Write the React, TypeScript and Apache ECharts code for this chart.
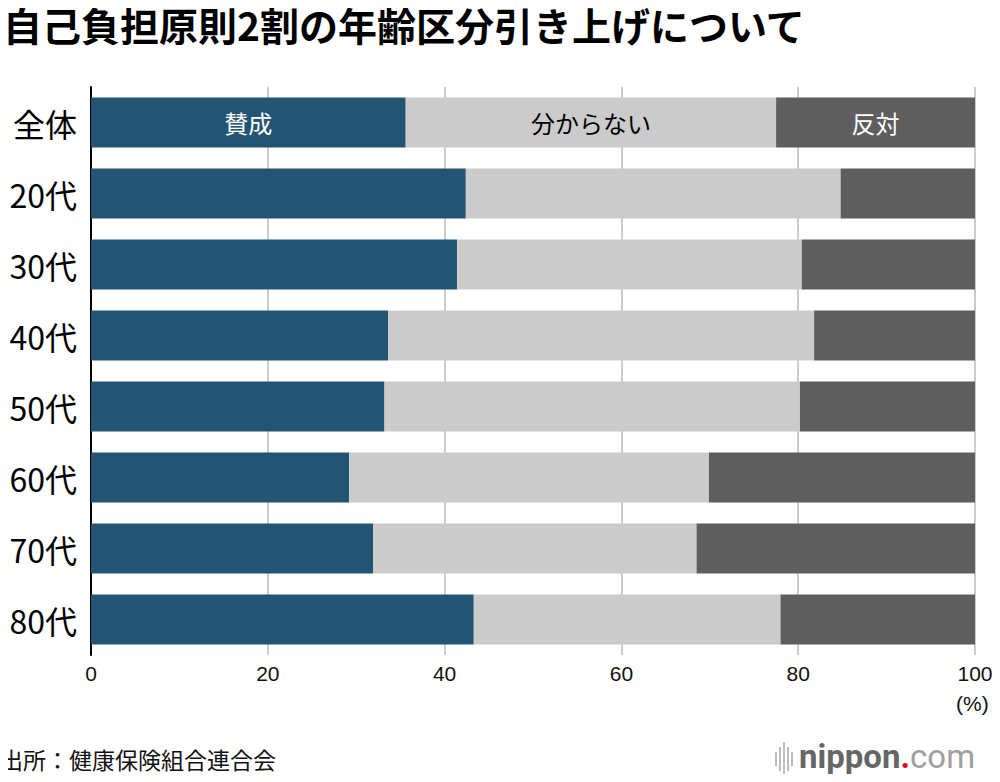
import React, { useEffect, useRef } from "react";
import * as echarts from "echarts";

const categories = ["全体", "20代", "30代", "40代", "50代", "60代", "70代", "80代"];
const agree = [35.6, 42.4, 41.4, 33.6, 33.2, 29.2, 31.9, 43.3];
const unknown = [41.9, 42.4, 39.0, 48.2, 47.0, 40.7, 36.6, 34.7];
const disagree = [22.5, 15.2, 19.6, 18.2, 19.8, 30.1, 31.5, 22.0];
const seriesNames = ["賛成", "分からない", "反対"];
const xTicks = [0, 20, 40, 60, 80, 100];
const titleText = "自己負担原則2割の年齢区分引き上げについて";

const FONT = "'Noto Sans CJK JP', 'Noto Sans', sans-serif";
const LOGO_FONT = "'Roboto', 'Liberation Sans', sans-serif";

export default function App() {
  const ref = useRef<HTMLDivElement>(null);
  useEffect(() => {
    if (!ref.current) return;
    const chart = echarts.init(ref.current, null, { renderer: "svg" });
    const makeSeries = (name: string, data: number[], color: string, labelColor: string) => ({
      name,
      type: "bar",
      stack: "total",
      barWidth: 50,
      data: data.map((v, i) => ({
        value: v,
        label: {
          show: i === 0,
          formatter: name,
          color: labelColor,
          fontSize: 24,
          fontFamily: FONT,
          position: "inside",
        },
      })),
      itemStyle: { color },
      emphasis: { disabled: true },
    });
    chart.setOption({
      animation: false,
      textStyle: { fontFamily: FONT },
      grid: { left: 91, right: 25, top: 87, bottom: 127, containLabel: false },
      xAxis: {
        type: "value",
        min: 0,
        max: 100,
        interval: 20,
        axisLine: { show: false },
        axisTick: { show: false },
        splitLine: { show: true, lineStyle: { color: "#cccccc", width: 2 } },
        axisLabel: {
          color: "#111",
          fontSize: 21,
          margin: 8,
          fontFamily: "'Liberation Sans', Arial, sans-serif",
          formatter: (v: number) => (xTicks.includes(v) ? String(v) : ""),
        },
      },
      yAxis: {
        type: "category",
        data: categories,
        inverse: true,
        axisLine: { show: true, lineStyle: { color: "#000", width: 2 } },
        axisTick: { show: false },
        axisLabel: { color: "#000", fontSize: 32, margin: 14, fontFamily: FONT },
      },
      series: [
        makeSeries(seriesNames[0], agree, "#235572", "#ffffff"),
        makeSeries(seriesNames[1], unknown, "#cbcbcb", "#000000"),
        makeSeries(seriesNames[2], disagree, "#5e5e5e", "#ffffff"),
      ],
      graphic: [
        {
          type: "text",
          x: 3,
          y: 24,
          style: {
            text: titleText,
            fontSize: 39,
            fontWeight: "bold",
            fill: "#000",
            fontFamily: FONT,
            verticalAlign: "middle",
            align: "left",
          },
        },
        {
          type: "text",
          x: 956,
          y: 693,
          style: { text: "(%)", fontSize: 21, fill: "#111", fontFamily: "'Liberation Sans', Arial, sans-serif" },
        },
        {
          type: "text",
          x: 0,
          y: 747,
          style: { text: "出所：健康保険組合連合会", fontSize: 23, fill: "#111", fontFamily: FONT },
        },
        {
          type: "group",
          x: 775,
          y: 742,
          children: [
            { type: "rect", shape: { x: 0, y: 10, width: 2, height: 14 }, style: { fill: "#bbbbbb" } },
            { type: "rect", shape: { x: 4, y: 5, width: 2, height: 24 }, style: { fill: "#bbbbbb" } },
            { type: "rect", shape: { x: 8, y: 0, width: 2, height: 34 }, style: { fill: "#bbbbbb" } },
            { type: "rect", shape: { x: 12, y: 5, width: 2, height: 24 }, style: { fill: "#bbbbbb" } },
            { type: "rect", shape: { x: 16, y: 10, width: 2, height: 14 }, style: { fill: "#bbbbbb" } },
            {
              type: "text",
              x: 24,
              y: -2,
              style: {
                text: "{a|nippon}{b|.}{c|com}",
                fontFamily: LOGO_FONT,
                fontSize: 33,
                fill: "#666666",
                rich: {
                  a: { fontSize: 33, fontWeight: "bold", fill: "#666666", color: "#666666", fontFamily: LOGO_FONT },
                  b: { fontSize: 33, fontWeight: "bold", fill: "#e60012", color: "#e60012", fontFamily: LOGO_FONT },
                  c: { fontSize: 33, fill: "#a0a0a0", color: "#a0a0a0", fontFamily: LOGO_FONT },
                },
              },
            },
          ],
        },
      ],
    });
    return () => chart.dispose();
  }, []);
  return <div ref={ref} style={{ width: 1000, height: 782, margin: -8 }} />;
}
